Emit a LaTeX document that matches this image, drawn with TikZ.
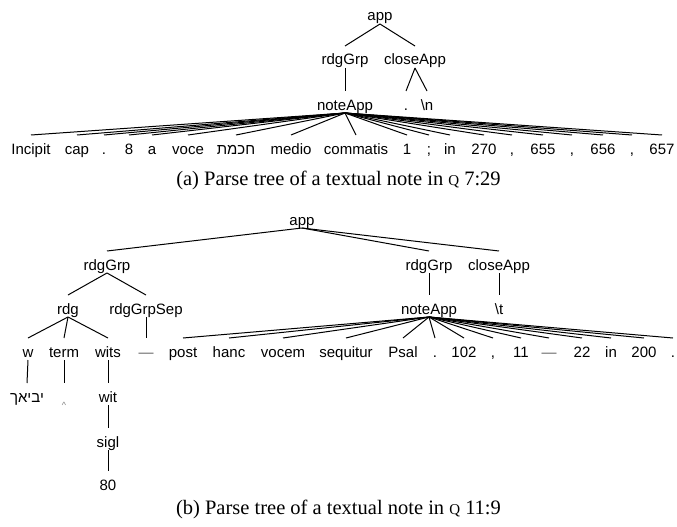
\documentclass[tikz,border=0pt]{standalone}
\usepackage{fontspec}
\setmainfont{Liberation Serif}
\newfontfamily\labfont{Liberation Sans}
\newfontfamily\hebfont[Script=Hebrew]{Liberation Sans}
\TeXXeTstate=1
\usetikzlibrary{calc}
\newcommand\tedge[2]{\draw[edge] ($(#1.center)+(0,8)$) -- ($(#2.center)+(0,-14)$);}
\begin{document}
\begin{tikzpicture}[x=1pt,y=-1pt,
  lbl/.style={font=\labfont\fontsize{15}{15}\selectfont, inner sep=0pt, text height=10pt, text depth=0pt},
  edge/.style={line width=1pt, black},
  dashtxt/.style={text=black!60},
  capt/.style={font=\fontsize{20.5}{24}\selectfont, inner sep=0pt}]
\useasboundingbox (0,0) rectangle (677,527);
% ---------- tree (a) ----------
\node[lbl] (aapp) at (380,16) {app};
\node[lbl] (argrp) at (345,60) {rdgGrp};
\node[lbl] (aclose) at (415,60) {closeApp};
\node[lbl] (anote) at (345,105) {noteApp};
\node[lbl] (adot) at (406,105) {.};
\node[lbl] (anl) at (427,105) {\textbackslash n};
\foreach \n/\x/\t in {1/31/Incipit,2/77/cap,3/104/.,4/129/8,5/152/a,6/188/voce,8/291/medio,9/356/commatis,10/407/1,11/429/;,12/450/in,13/484/270,14/512/{,},15/543/655,16/572/{,},17/603/656,18/632/{,},19/662/657}
  \node[lbl] (la\n) at (\x,149) {\t};
\node[lbl] (la7) at (236,149) {\hebfont\beginR חכמת\endR};
\tedge{aapp}{argrp}
\tedge{aapp}{aclose}
\tedge{argrp}{anote}
\tedge{aclose}{adot}
\tedge{aclose}{anl}
\foreach \n in {1,...,19} {\tedge{anote}{la\n}}
\node[capt] (capa) at (338.5,180) {(a) Parse tree of a textual note in {\fontsize{15}{15}\selectfont Q} 7:29};
% ---------- tree (b) ----------
\node[lbl] (bapp) at (302,220) {app};
\node[lbl] (brg1) at (107,265) {rdgGrp};
\node[lbl] (brg2) at (429,265) {rdgGrp};
\node[lbl] (bclose) at (499,265) {closeApp};
\node[lbl] (brdg) at (68,309) {rdg};
\node[lbl] (bsep) at (146,309) {rdgGrpSep};
\node[lbl] (bnote) at (429,309) {noteApp};
\node[lbl] (bt) at (499,309) {\textbackslash t};
\node[lbl] (bw) at (28,352) {w};
\node[lbl] (bterm) at (64,352) {term};
\node[lbl] (bwits) at (108,352) {wits};
\node[lbl, dashtxt] (bdash) at (146,352) {—};
\foreach \n/\x/\t in {1/183/post,2/229/hanc,3/283/vocem,4/346/sequitur,5/403/Psal,6/435/.,7/464/102,8/493/{,},9/521/11,11/582/22,12/611/in,13/644/200,14/673/.}
  \node[lbl] (lb\n) at (\x,352) {\t};
\node[lbl, dashtxt] (lb10) at (549,352) {—};
\node[lbl] (bheb) at (27,397) {\hebfont\beginR יביאך\endR};
\node[lbl, font=\labfont\fontsize{9}{9}\selectfont, text=gray] (bcaret) at (64,397) {\raisebox{-6pt}{\textasciicircum}};
\node[lbl] (bwit) at (108,397) {wit};
\node[lbl] (bsigl) at (108,442) {sigl};
\node[lbl] (b80) at (108,485) {80};
\tedge{bapp}{brg1}
\tedge{bapp}{brg2}
\tedge{bapp}{bclose}
\tedge{brg1}{brdg}
\tedge{brg1}{bsep}
\tedge{brg2}{bnote}
\tedge{bclose}{bt}
\tedge{brdg}{bw}
\tedge{brdg}{bterm}
\tedge{brdg}{bwits}
\tedge{bsep}{bdash}
\foreach \n in {1,...,14} {\tedge{bnote}{lb\n}}
\tedge{bw}{bheb}
\tedge{bterm}{bcaret}
\tedge{bwits}{bwit}
\tedge{bwit}{bsigl}
\tedge{bsigl}{b80}
\node[capt] (capb) at (338.5,509) {(b) Parse tree of a textual note in {\fontsize{15}{15}\selectfont Q} 11:9};
\end{tikzpicture}
\end{document}
